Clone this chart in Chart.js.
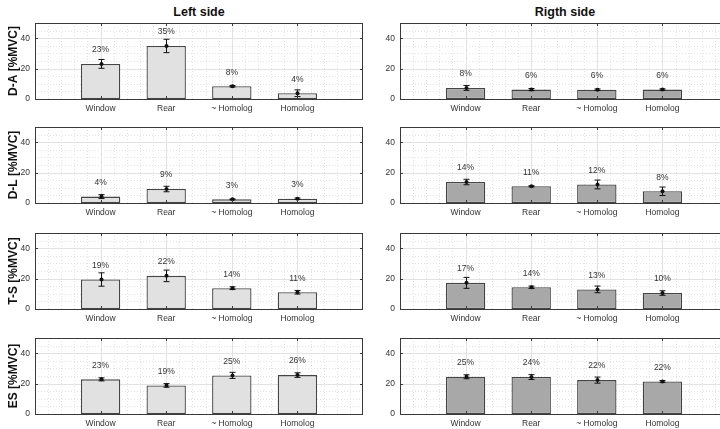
<!DOCTYPE html>
<html>
<head>
<meta charset="utf-8">
<script src="https://cdn.jsdelivr.net/npm/chart.js@4"></script>
<style>
  html, body { margin:0; padding:0; background:#fff; width:720px; height:429px; overflow:hidden; position:relative; }
  .ttl { position:absolute; top:5px; font: bold 12.5px "Liberation Sans", Arial, sans-serif; color:#111; text-align:center; width:200px; }
  canvas { position:absolute; }
</style>
</head>
<body>
<div class="ttl" style="left:99px">Left side</div>
<div class="ttl" style="left:465px">Rigth side</div>
<script>
// ---------- data ----------
const categories = ['Window', 'Rear', '~ Homolog', 'Homolog'];
const muscles = ['D-A', 'D-L', 'T-S', 'ES'];
const yTicks = [0, 20, 40];

const daLeft = [23.1, 34.9, 8.4, 3.8];
const daLeftErr = [2.9, 4.4, 0.5, 2.2];
const daLeftLbl = ['23%', '35%', '8%', '4%'];
const daRight = [7.3, 6.2, 6.1, 6.2];
const daRightErr = [1.6, 0.7, 0.5, 0.5];
const daRightLbl = ['8%', '6%', '6%', '6%'];

const dlLeft = [4.2, 9.2, 2.4, 2.8];
const dlLeftErr = [1.3, 1.8, 0.3, 0.5];
const dlLeftLbl = ['4%', '9%', '3%', '3%'];
const dlRight = [13.8, 11.0, 12.2, 7.7];
const dlRightErr = [1.8, 0.4, 2.9, 2.8];
const dlRightLbl = ['14%', '11%', '12%', '8%'];

const tsLeft = [19.4, 21.8, 13.7, 11.0];
const tsLeftErr = [4.4, 3.8, 0.9, 1.2];
const tsLeftLbl = ['19%', '22%', '14%', '11%'];
const tsRight = [17.2, 14.3, 12.9, 10.5];
const tsRightErr = [3.6, 0.8, 2.2, 1.5];
const tsRightLbl = ['17%', '14%', '13%', '10%'];

const esLeft = [22.8, 18.8, 25.4, 25.6];
const esLeftErr = [1.0, 1.2, 2.0, 1.5];
const esLeftLbl = ['23%', '19%', '25%', '26%'];
const esRight = [24.5, 24.3, 22.3, 21.4];
const esRightErr = [1.3, 1.6, 2.0, 0.6];
const esRightLbl = ['25%', '24%', '22%', '22%'];

const panels = [
  [[daLeft, daLeftErr, daLeftLbl], [daRight, daRightErr, daRightLbl]],
  [[dlLeft, dlLeftErr, dlLeftLbl], [dlRight, dlRightErr, dlRightLbl]],
  [[tsLeft, tsLeftErr, tsLeftLbl], [tsRight, tsRightErr, tsRightLbl]],
  [[esLeft, esLeftErr, esLeftLbl], [esRight, esRightErr, esRightLbl]]
];

// ---------- layout ----------
const FONT = '"Liberation Sans", Arial, Helvetica, sans-serif';
Chart.defaults.font.family = FONT;
const rowTops = [23, 127, 233, 338];
const plotH = 76;
const padTop = 23;
const xAxisH = 20;
const colLeft = [0, 365];
const yAxisW = 35;
const canvasW = 370;
const padRight = 7;
const barColors = ['#e1e1e1', '#a8a8a8'];

const panelPlugin = {
  id: 'panel',
  beforeDatasetsDraw(chart) {
    const { ctx, chartArea: a, scales: { x, y } } = chart;
    ctx.save();
    ctx.lineWidth = 1;
    // minor grid (dotted)
    ctx.strokeStyle = '#e3e3e3';
    ctx.setLineDash([1, 2]);
    for (let i = 1; i < 25; i++) {
      if (i % 5 === 0) continue;
      const px = Math.round(x.getPixelForDecimal(i / 25)) + 0.5;
      ctx.beginPath(); ctx.moveTo(px, a.top); ctx.lineTo(px, a.bottom); ctx.stroke();
    }
    for (let v = 5; v < 50; v += 5) {
      if (v % 20 === 0) continue;
      const py = Math.round(y.getPixelForValue(v)) + 0.5;
      ctx.beginPath(); ctx.moveTo(a.left, py); ctx.lineTo(a.right, py); ctx.stroke();
    }
    // major grid
    ctx.setLineDash([]);
    ctx.strokeStyle = '#e2e2e2';
    for (let i = 1; i <= 4; i++) {
      const px = Math.round(x.getPixelForValue(i)) + 0.5;
      ctx.beginPath(); ctx.moveTo(px, a.top); ctx.lineTo(px, a.bottom); ctx.stroke();
    }
    for (const v of [20, 40]) {
      const py = Math.round(y.getPixelForValue(v)) + 0.5;
      ctx.beginPath(); ctx.moveTo(a.left, py); ctx.lineTo(a.right, py); ctx.stroke();
    }
    ctx.restore();
  },
  afterDatasetsDraw(chart, args, opts) {
    const { ctx, chartArea: a, scales: { x, y } } = chart;
    const vals = opts.vals, errs = opts.errs, lbls = opts.lbls;
    ctx.save();
    // error bars
    ctx.strokeStyle = '#111';
    ctx.fillStyle = '#111';
    ctx.lineWidth = 1;
    vals.forEach((v, i) => {
      const px = Math.round(x.getPixelForValue(i + 1)) + 0.5;
      const yt = y.getPixelForValue(v + errs[i]);
      const yb = y.getPixelForValue(v - errs[i]);
      ctx.beginPath();
      ctx.moveTo(px, yt); ctx.lineTo(px, yb);
      ctx.moveTo(px - 3, yt); ctx.lineTo(px + 3, yt);
      ctx.moveTo(px - 3, yb); ctx.lineTo(px + 3, yb);
      ctx.stroke();
      ctx.beginPath();
      ctx.arc(px, y.getPixelForValue(v), 2, 0, Math.PI * 2);
      ctx.fill();
    });
    // percentage labels
    ctx.fillStyle = '#333';
    ctx.font = '8.5px ' + FONT;
    ctx.textAlign = 'center';
    ctx.textBaseline = 'middle';
    vals.forEach((v, i) => {
      ctx.fillText(lbls[i], x.getPixelForValue(i + 1), y.getPixelForValue(v) - 14);
    });
    // box
    ctx.strokeStyle = '#3a3a3a';
    ctx.lineWidth = 1;
    ctx.strokeRect(Math.round(a.left) + 0.5, Math.round(a.top) + 0.5, Math.round(a.right - a.left) - 1, Math.round(a.bottom - a.top));
    // tick marks (inside)
    ctx.beginPath();
    for (const v of yTicks) {
      const py = Math.round(y.getPixelForValue(v)) + 0.5;
      ctx.moveTo(a.left, py); ctx.lineTo(a.left + 3, py);
      ctx.moveTo(a.right - 3, py); ctx.lineTo(a.right, py);
    }
    for (let i = 1; i <= 4; i++) {
      const px = Math.round(x.getPixelForValue(i)) + 0.5;
      ctx.moveTo(px, a.bottom); ctx.lineTo(px, a.bottom - 3);
      ctx.moveTo(px, a.top); ctx.lineTo(px, a.top + 3);
    }
    ctx.stroke();
    ctx.restore();
  }
};

const paddedLabels = [''].concat(categories, ['']);

panels.forEach((row, r) => {
  row.forEach(([vals, errs, lbls], c) => {
    const cv = document.createElement('canvas');
    cv.width = canvasW;
    cv.height = padTop + plotH + xAxisH;
    cv.style.left = colLeft[c] + 'px';
    cv.style.top = (rowTops[r] - padTop) + 'px';
    document.body.appendChild(cv);
    new Chart(cv, {
      type: 'bar',
      data: {
        labels: paddedLabels,
        datasets: [{
          data: [null].concat(vals, [null]),
          backgroundColor: barColors[c],
          borderColor: '#454545',
          borderWidth: 1.3,
          borderSkipped: false,
          categoryPercentage: 0.6,
          barPercentage: 1
        }]
      },
      options: {
        responsive: false,
        animation: false,
        devicePixelRatio: 1,
        layout: { padding: { top: padTop, right: padRight, left: 0, bottom: 0 } },
        plugins: {
          legend: { display: false },
          tooltip: { enabled: false },
          panel: { vals: vals, errs: errs, lbls: lbls }
        },
        scales: {
          x: {
            type: 'category',
            offset: false,
            grid: { display: false, drawTicks: false },
            border: { display: false },
            ticks: { padding: 5, color: '#333', font: { size: 8.5 }, autoSkip: false, maxRotation: 0, minRotation: 0 },
            afterFit(s) { s.height = xAxisH; }
          },
          y: {
            min: 0, max: 50,
            afterBuildTicks(s) { s.ticks = yTicks.map(v => ({ value: v })); },
            grid: { display: false, drawTicks: false },
            border: { display: false },
            ticks: { padding: 5, color: '#333', font: { size: 8.5 } },
            title: {
              display: c === 0,
              text: muscles[r] + ' [%MVC]',
              color: '#111',
              font: { size: 12, weight: 'bold' },
              padding: { top: 6, bottom: 0 }
            },
            afterFit(s) { s.width = yAxisW; }
          }
        }
      },
      plugins: [panelPlugin]
    });
  });
});
</script>
</body>
</html>
